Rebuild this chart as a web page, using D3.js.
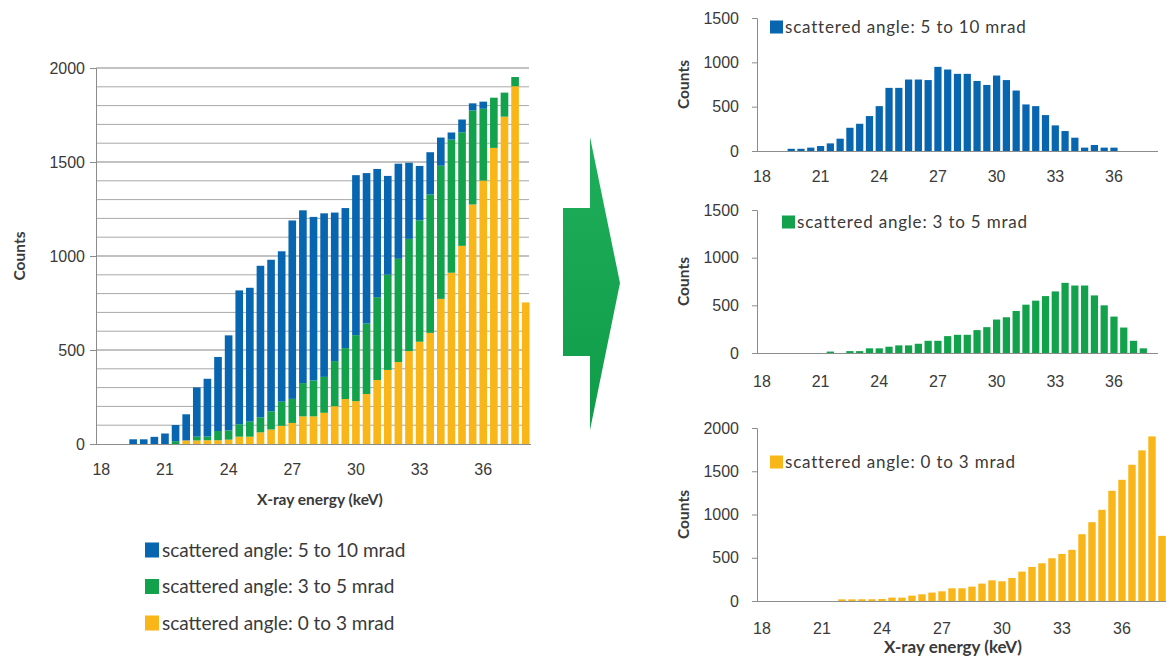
<!DOCTYPE html>
<html>
<head>
<meta charset="utf-8">
<script src="https://cdn.jsdelivr.net/npm/d3@7"></script>
<style>
  html, body { margin: 0; padding: 0; background: #fff; }
  svg { display: block; font-family: Lato, "Open Sans", sans-serif; }
</style>
</head>
<body>
<svg id="fig" width="1166" height="666"></svg>
<script>
// X-ray energy bins (keV), 0.5 keV wide
const energies = [18, 18.5, 19, 19.5, 20, 20.5, 21, 21.5, 22, 22.5, 23, 23.5, 24, 24.5,
  25, 25.5, 26, 26.5, 27, 27.5, 28, 28.5, 29, 29.5, 30, 30.5, 31, 31.5, 32, 32.5,
  33, 33.5, 34, 34.5, 35, 35.5, 36, 36.5, 37, 37.5, 38];
const energyTicks = [18, 21, 24, 27, 30, 33, 36];

// Counts per bin for each scattering-angle range
const countsWide = [0, 0, 0, 25, 25, 38, 56, 86, 139, 262, 307, 394, 506, 712,
  712, 806, 806, 800, 949, 919, 870, 870, 790, 745, 851, 800, 682, 525, 506, 405,
  289, 225, 150, 38, 68, 38, 38, 0, 0, 0, 0];
const countsMid = [0, 0, 0, 0, 0, 0, 0, 15, 0, 20, 20, 49, 49, 66,
  80, 80, 97, 128, 128, 177, 191, 191, 240, 271, 351, 375, 441, 507, 549, 597,
  646, 736, 708, 708, 604, 500, 382, 267, 128, 49, 0];
const countsNarrow = [0, 0, 0, 0, 0, 0, 0, 0, 19, 19, 20, 20, 23, 39,
  39, 62, 77, 97, 112, 147, 147, 166, 201, 239, 228, 266, 340, 394, 436, 494,
  544, 591, 772, 911, 1054, 1274, 1401, 1575, 1741, 1903, 753];

const seriesKeys = ["wide", "mid", "narrow"];
const seriesLabels = {
  wide: "scattered angle: 5 to 10 mrad",
  mid: "scattered angle: 3 to 5 mrad",
  narrow: "scattered angle: 0 to 3 mrad"
};
const seriesCounts = { wide: countsWide, mid: countsMid, narrow: countsNarrow };
const seriesColors = { wide: "#0866b1", mid: "#12a24c", narrow: "#f8b618" };

const stackedTicks = [0, 500, 1000, 1500, 2000];
const panelTicks15 = [0, 500, 1000, 1500];
const panelTicks20 = [0, 500, 1000, 1500, 2000];

const textColor = "#3a3a3a";
const axisColor = "#8c8c8c";
const plain = d3.format("d");

const svg = d3.select("#fig");

// rows for the stacked chart
const rows = energies.map((e, i) => ({
  energy: e, wide: countsWide[i], mid: countsMid[i], narrow: countsNarrow[i]
}));

// ---------- stacked chart (left) ----------
{
  const x = d3.scaleBand().domain(energies).range([96, 531])
    .paddingInner(0.28).paddingOuter(0.14);
  const y = d3.scaleLinear().domain([0, 2000]).range([444, 68]);
  const g = svg.append("g");

  // horizontal gridlines every 100 counts
  g.append("g").selectAll("line")
    .data(y.ticks(20).filter(v => v > 0))
    .join("line")
    .attr("x1", 96).attr("x2", 529)
    .attr("y1", d => y(d)).attr("y2", d => y(d))
    .attr("stroke", d => d % 500 === 0 ? "#858585" : "#a8a8a8")
    .attr("stroke-width", 1);

  const stack = d3.stack().keys(["narrow", "mid", "wide"])(rows);
  g.append("g").selectAll("g")
    .data(stack)
    .join("g")
    .attr("fill", s => seriesColors[s.key])
    .selectAll("rect")
    .data(s => s.filter(d => d[1] - d[0] > 0))
    .join("rect")
    .attr("x", d => x(d.data.energy))
    .attr("width", x.bandwidth())
    .attr("y", d => y(d[1]))
    .attr("height", d => y(d[0]) - y(d[1]));

  const yAxis = g.append("g").attr("transform", "translate(96,0)")
    .call(d3.axisLeft(y).tickValues(stackedTicks).tickFormat(plain).tickSize(6).tickPadding(5));
  yAxis.select(".domain").attr("stroke", axisColor);
  yAxis.selectAll(".tick line").attr("stroke", axisColor);
  yAxis.selectAll("text").attr("fill", textColor).style("font-size", "16px");

  const xAxis = g.append("g").attr("transform", "translate(0,444)")
    .call(d3.axisBottom(x).tickValues(energyTicks).tickSize(0).tickPadding(20));
  xAxis.select(".domain").attr("stroke", axisColor).attr("d", "M96,0.5H531");
  xAxis.selectAll("text").attr("fill", textColor).style("font-size", "16px");

  g.append("text")
    .attr("transform", "translate(25,256) rotate(-90)")
    .attr("text-anchor", "middle")
    .attr("fill", textColor)
    .style("font-size", "15.5px").style("font-weight", "bold")
    .text("Counts");

  g.append("text")
    .attr("x", 320).attr("y", 505)
    .attr("text-anchor", "middle")
    .attr("fill", textColor)
    .style("font-size", "15.5px").style("font-weight", "bold")
    .text("X-ray energy (keV)");

  // legend
  const leg = g.append("g").selectAll("g")
    .data(seriesKeys)
    .join("g")
    .attr("transform", (d, i) => `translate(145,${550 + i * 36.5})`);
  leg.append("rect")
    .attr("x", 0).attr("y", -7.5).attr("width", 14).attr("height", 15)
    .attr("fill", d => seriesColors[d]);
  leg.append("text")
    .attr("x", 17).attr("y", 0).attr("dy", "0.35em")
    .attr("fill", textColor)
    .style("font-size", "19px")
    .text(d => seriesLabels[d]);
}

// ---------- arrow between the two halves ----------
{
  const defs = svg.append("defs");
  const grad = defs.append("linearGradient").attr("id", "arrowFill")
    .attr("x1", 0).attr("y1", 0).attr("x2", 0).attr("y2", 1);
  grad.append("stop").attr("offset", "0%").attr("stop-color", "#1fae5a");
  grad.append("stop").attr("offset", "100%").attr("stop-color", "#0f9c49");
  svg.append("path")
    .attr("d", "M563,208 L590,208 L590,137 L620,283 L590,430 L590,356 L563,356 Z")
    .attr("fill", "url(#arrowFill)");
}

// ---------- single-series panels (right) ----------
function panel(key, opts) {
  const x = d3.scaleBand().domain(energies).range([757, 757 + opts.step * energies.length])
    .paddingInner(0.26).paddingOuter(0.13);
  const y = d3.scaleLinear().domain([0, opts.max]).range([opts.y0, opts.yTop]);
  const g = svg.append("g");
  const vals = seriesCounts[key];

  g.append("g").selectAll("rect")
    .data(energies.map((e, i) => ({ energy: e, value: vals[i] })).filter(d => d.value > 0))
    .join("rect")
    .attr("fill", seriesColors[key])
    .attr("x", d => x(d.energy))
    .attr("width", x.bandwidth())
    .attr("y", d => y(d.value))
    .attr("height", d => y(0) - y(d.value));

  const yAxis = g.append("g").attr("transform", "translate(757,0)")
    .call(d3.axisLeft(y).tickValues(opts.ticks).tickFormat(plain).tickSize(5).tickPadding(13));
  yAxis.select(".domain").attr("stroke", axisColor);
  yAxis.selectAll(".tick line").attr("stroke", axisColor);
  yAxis.selectAll("text").attr("fill", textColor).style("font-size", "16px");

  const xAxis = g.append("g").attr("transform", `translate(0,${opts.y0})`)
    .call(d3.axisBottom(x).tickValues(energyTicks).tickSize(0).tickPadding(opts.xPad));
  xAxis.select(".domain").attr("stroke", axisColor).attr("d", `M757,0.5H${opts.xEnd}`);
  xAxis.selectAll("text").attr("fill", textColor).style("font-size", "16px");

  g.append("text")
    .attr("transform", `translate(689,${(opts.y0 + opts.yTop) / 2}) rotate(-90)`)
    .attr("text-anchor", "middle")
    .attr("fill", textColor)
    .style("font-size", "15.5px").style("font-weight", "bold")
    .text("Counts");

  g.append("rect")
    .attr("x", opts.legX).attr("y", opts.legY - 6.5).attr("width", 13).attr("height", 13)
    .attr("fill", seriesColors[key]);
  g.append("text")
    .attr("x", opts.legX + 15).attr("y", opts.legY).attr("dy", "0.35em")
    .attr("fill", textColor)
    .style("font-size", "17px").style("letter-spacing", "0.8px")
    .text(seriesLabels[key]);
  return g;
}

panel("wide", { step: 9.78, max: 1500, y0: 151, yTop: 18, ticks: panelTicks15,
  xEnd: 1158, xPad: 20, legX: 770, legY: 27 });
panel("mid", { step: 9.78, max: 1500, y0: 353, yTop: 210, ticks: panelTicks15,
  xEnd: 1158, xPad: 23, legX: 782, legY: 222 });
const bottom = panel("narrow", { step: 10, max: 2000, y0: 601, yTop: 428, ticks: panelTicks20,
  xEnd: 1166, xPad: 22, legX: 770, legY: 462 });
bottom.append("text")
  .attr("x", 953).attr("y", 653)
  .attr("text-anchor", "middle")
  .attr("fill", textColor)
  .style("font-size", "17px").style("font-weight", "bold")
  .text("X-ray energy (keV)");
</script>
</body>
</html>
